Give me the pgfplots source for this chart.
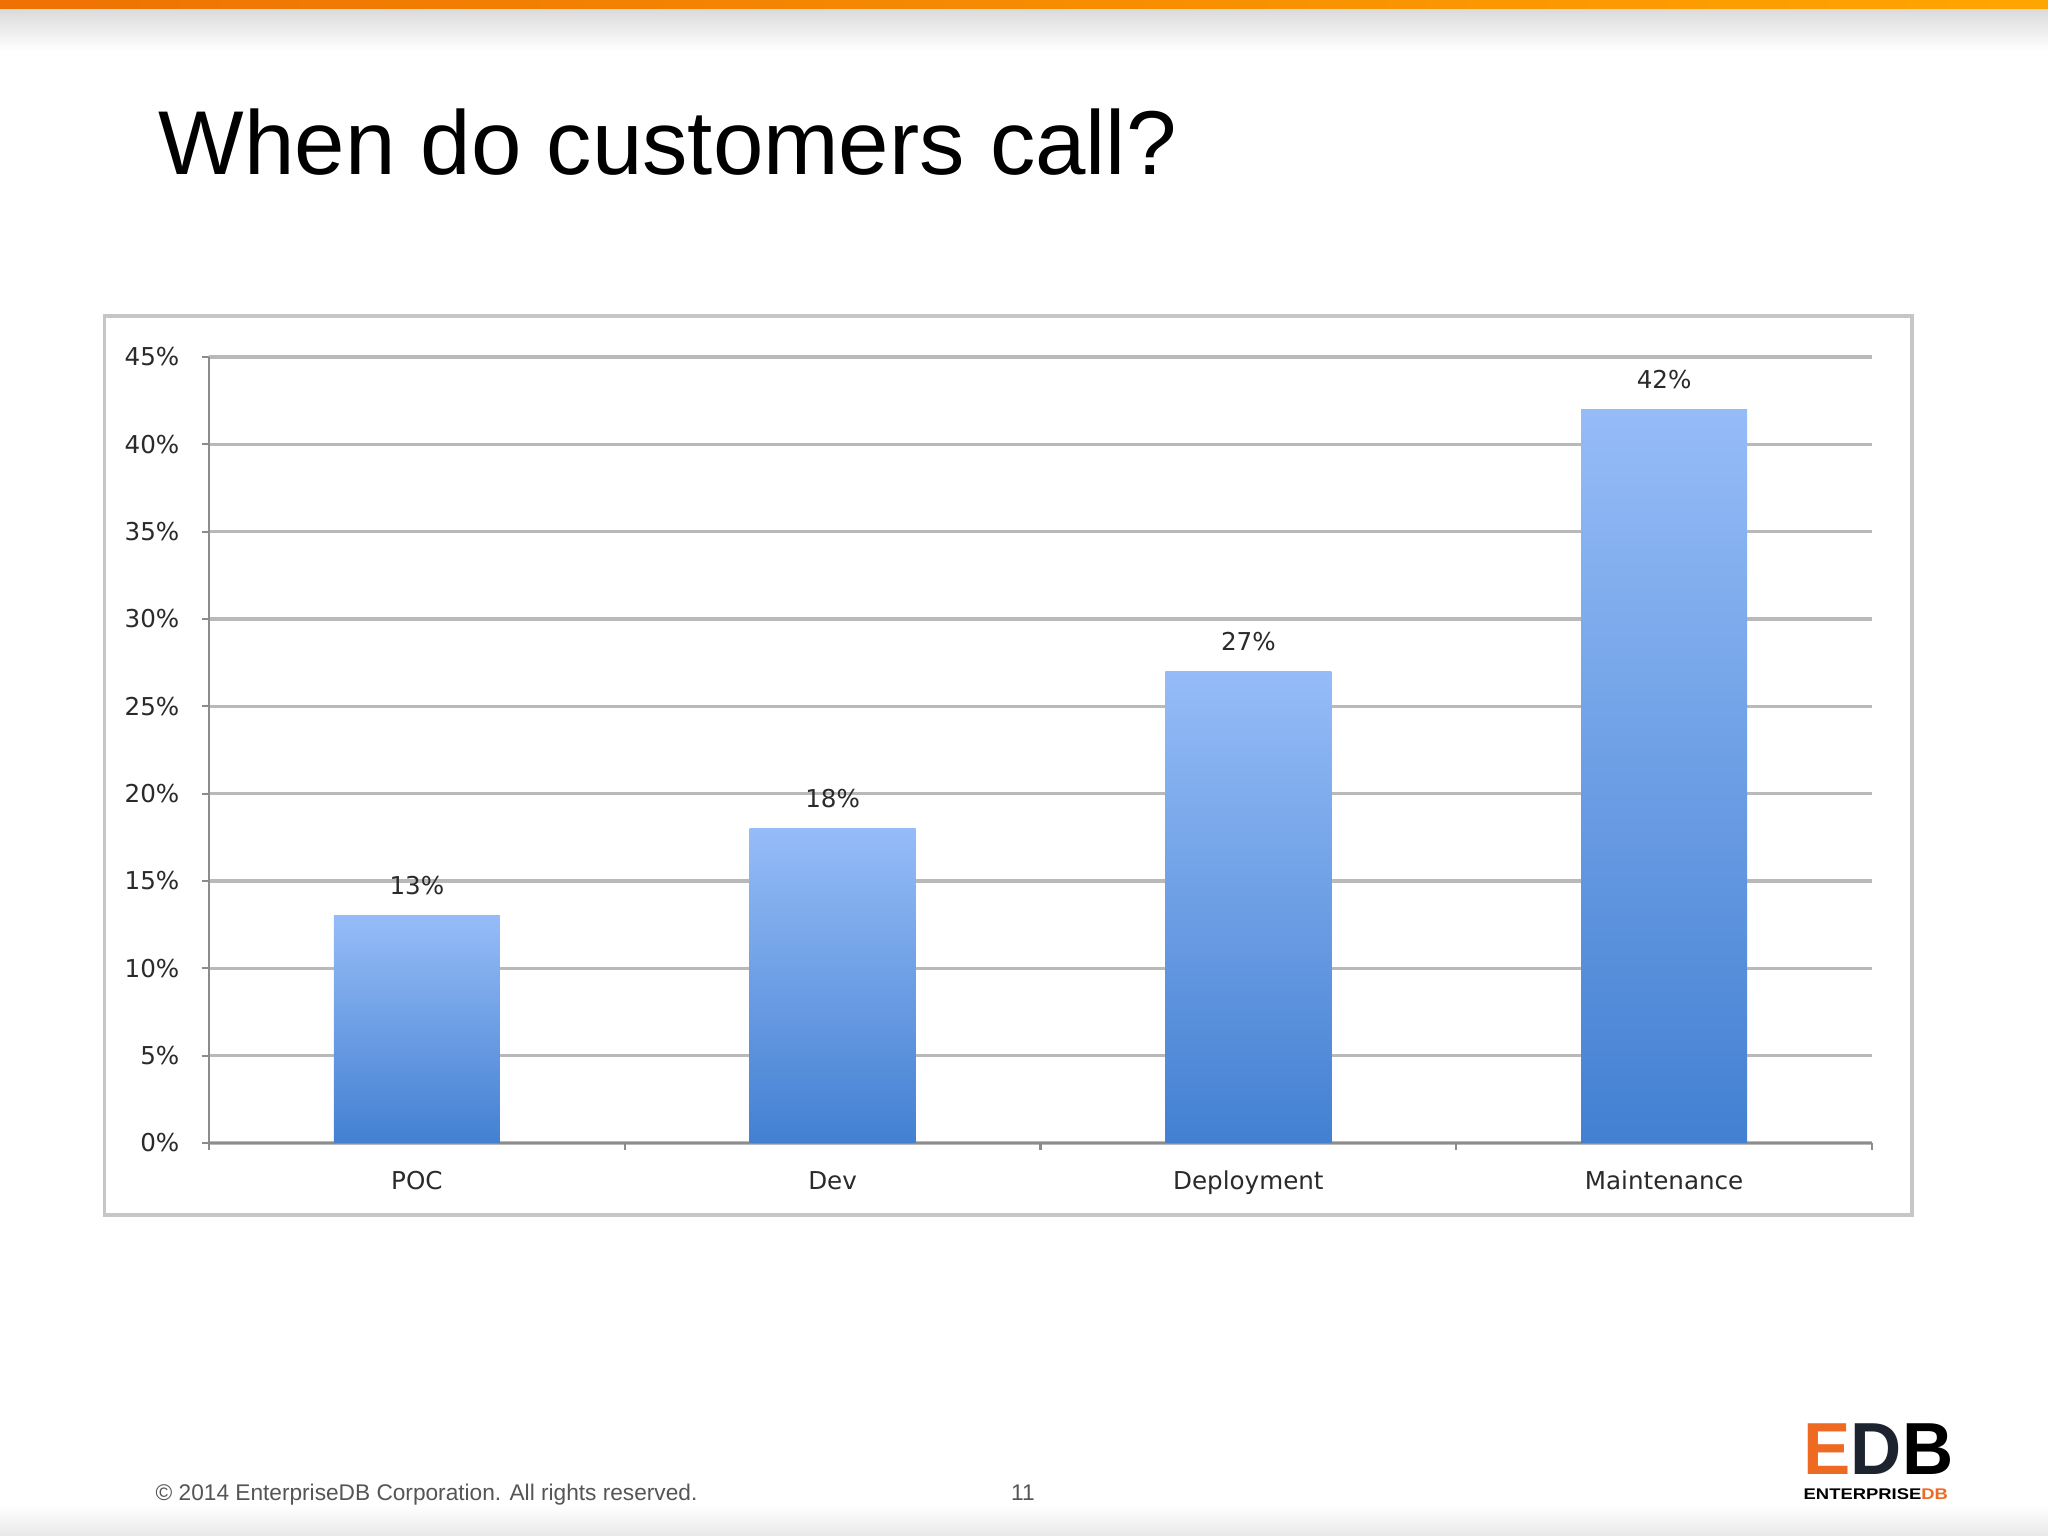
\documentclass[border=0pt]{standalone}
\usepackage{pgfplots}
\pgfplotsset{compat=1.18}
\usepackage{fontspec}
\setmainfont{Liberation Sans}
\newfontfamily\chartfont{DejaVu Sans}
\definecolor{barTop}{HTML}{95BCF7}
\definecolor{barBot}{HTML}{4380D2}
\definecolor{gridc}{HTML}{B9B9B9}
\definecolor{axisc}{HTML}{8C8C8C}
\definecolor{txt}{HTML}{2A2A2A}
\definecolor{orL}{HTML}{EE7203}
\definecolor{orR}{HTML}{FFA500}
\definecolor{framec}{HTML}{C6C6C6}
\definecolor{foot}{HTML}{555555}
\definecolor{logoE}{HTML}{EE6A22}
\definecolor{logoD}{HTML}{1D2430}
\pgfplotsset{barstyle/.style={ybar, bar width=16.6mm, draw=none, top color=barTop, bottom color=barBot,
  nodes near coords={\pgfmathprintnumber{\pgfplotspointmeta}\%},
  nodes near coords style={anchor=base, inner sep=0pt, yshift=2.1mm, font=\chartfont\fontsize{7}{8}\selectfont, text=txt}}}
\begin{document}
\begin{tikzpicture}
\useasboundingbox (0,0) rectangle (204.8mm,153.6mm);
\fill[white] (0,0) rectangle (204.8mm,153.6mm);
\shade[left color=orL, right color=orR] (0,152.6mm) rectangle (204.8mm,153.6mm);
\shade[top color=black!14, bottom color=white] (0,148.5mm) rectangle (204.8mm,152.6mm);
\shade[top color=white, bottom color=black!9] (0,0) rectangle (204.8mm,3.0mm);
\draw[framec, line width=0.35mm, fill=white] (10.45mm,32.1mm) rectangle (191.2mm,122.0mm);
\node[anchor=base west, inner sep=0pt, font=\fontsize{25.8}{30}\selectfont] at (15.8mm,136.1mm) {When do customers call?};
\node[anchor=base west, inner sep=0pt, text=foot, font=\fontsize{6.45}{7}\selectfont] at (15.5mm,3.5mm) {\textcopyright{} 2014 EnterpriseDB Corporation. All rights reserved.};
\node[anchor=base, inner sep=0pt, text=foot, font=\fontsize{6.45}{7}\selectfont] at (102.3mm,3.5mm) {11};
\node[anchor=base west, inner sep=0pt, font=\bfseries\fontsize{21}{24}\selectfont] at (180.3mm,6.1mm) {\scalebox{0.96}[1]{\textcolor{logoE}{E}\textcolor{logoD}{D}\textcolor{black}{B}}};
\node[anchor=base west, inner sep=0pt, font=\bfseries\fontsize{4.4}{5}\selectfont] at (180.3mm,3.6mm) {\scalebox{1.19}[1]{ENTERPRISE\textcolor{logoE}{DB}}};
\begin{axis}[
  at={(20.9mm,39.3mm)}, anchor=south west,
  scale only axis, width=166.3mm, height=78.6mm,
  xmin=-0.5, xmax=3.5, ymin=0, ymax=45,
  axis x line*=bottom, axis y line*=left,
  axis line style={draw=axisc, line width=0.6pt},
  ytick={0,5,...,45},
  yticklabel={\pgfmathprintnumber{\tick}\%},
  /pgf/number format/assume math mode=true,
  ymajorgrids, grid style={draw=gridc, line width=0.9pt},
  ytick style={draw=axisc, line width=0.6pt},
  tick align=outside, major tick length=0.7mm,
  xtick={0,1,2,3}, xticklabels={POC,Dev,Deployment,Maintenance},
  xtick style={draw=none},
  extra x ticks={-0.5,0.5,1.5,2.5,3.5}, extra x tick labels={},
  extra x tick style={xtick style={draw=axisc, line width=0.6pt}},
  ticklabel style={font=\chartfont\fontsize{7}{8}\selectfont, text=txt},
  yticklabel style={anchor=east, inner sep=0pt, xshift=-2.2mm},
  xticklabel style={anchor=base, inner sep=0pt, yshift=-3.95mm},
]
\addplot[barstyle] coordinates {(0,13)};
\addplot[barstyle] coordinates {(1,18)};
\addplot[barstyle] coordinates {(2,27)};
\addplot[barstyle] coordinates {(3,42)};
\end{axis}
\end{tikzpicture}
\end{document}
